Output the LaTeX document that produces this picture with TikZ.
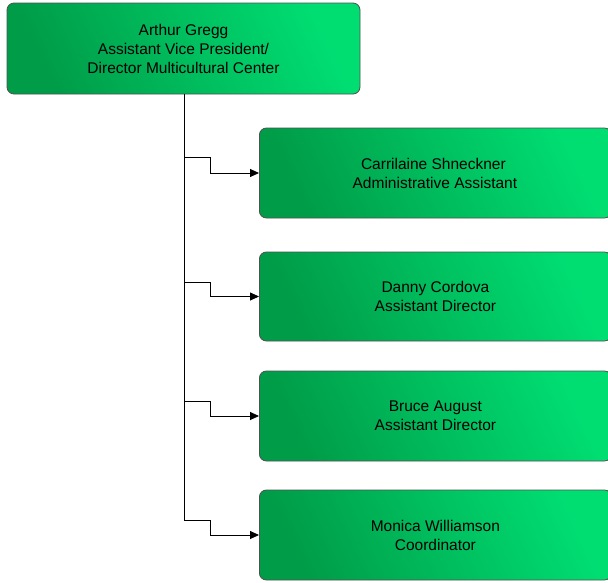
\documentclass[tikz,border=0pt]{standalone}
\usepackage{fontspec}
\setmainfont{Liberation Sans}
\usetikzlibrary{arrows.meta}
\definecolor{gdark}{HTML}{009C48}
\definecolor{glight}{HTML}{00DE72}
\definecolor{edge}{HTML}{505050}
\tikzset{
  card/.style={draw=edge, line width=0.8pt, rounded corners=7pt, shading=axis,
    left color=gdark, right color=glight, shading angle=115,
    align=center, inner sep=0pt, font=\fontsize{15.5}{19}\selectfont, text=black},
  conn/.style={draw=black, line width=0.8pt},
  arr/.style={conn, -{Triangle[length=9pt,width=8pt]}}
}
\begin{document}
\begin{tikzpicture}[x=1pt,y=-1pt]
\useasboundingbox (0,0) rectangle (608,582);
\begin{scope}
\clip (0,0) rectangle (608,582);
\node[card, minimum width=353pt, minimum height=91pt] (top) at (183.5,48.5)
  {Arthur Gregg\\Assistant Vice President/\\Director Multicultural Center};
\node[card, minimum width=352pt, minimum height=90pt, anchor=west] (c1) at (259,173)
  {\hspace*{-4pt}Carrilaine Shneckner\\Administrative Assistant\hspace*{1pt}};
\node[card, minimum width=352pt, minimum height=89pt, anchor=west] (c2) at (259,296.5)
  {Danny Cordova\\Assistant Director};
\node[card, minimum width=352pt, minimum height=90pt, anchor=west] (c3) at (259,416)
  {Bruce August\\Assistant Director};
\node[card, minimum width=352pt, minimum height=90pt, anchor=west] (c4) at (259,535)
  {Monica Williamson\\Coordinator};
\end{scope}
\coordinate (j1) at (184,157);
\coordinate (j2) at (184,282);
\coordinate (j3) at (184,401);
\coordinate (j4) at (184,520);
\draw[conn] (top.south -| j1) -- (j4);
\draw[arr] (j1) -- (210,157) -- (210,173) -- (c1.west);
\draw[arr] (j2) -- (210,282) -- (210,296.5) -- (c2.west);
\draw[arr] (j3) -- (210,401) -- (210,416) -- (c3.west);
\draw[arr] (j4) -- (210,520) -- (210,535) -- (c4.west);
\end{tikzpicture}
\end{document}
